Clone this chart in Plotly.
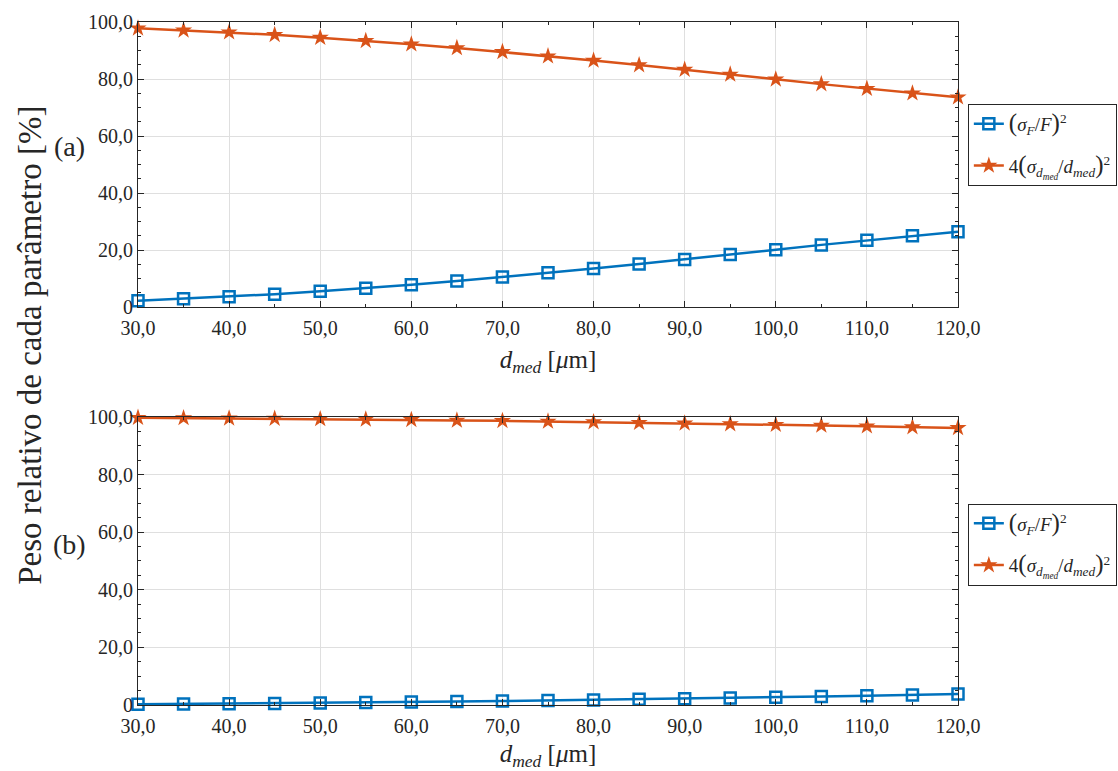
import plotly.graph_objects as go

# Mean diameter values [µm]
d_med = [30, 35, 40, 45, 50, 55, 60, 65, 70, 75, 80, 85, 90, 95, 100, 105, 110, 115, 120]

# (a) relative weight of each parameter [%]
peso_F_a = [2.2, 2.9, 3.6, 4.5, 5.5, 6.6, 7.8, 9.1, 10.5, 12.0, 13.5, 15.1, 16.7,
            18.4, 20.1, 21.8, 23.4, 25.0, 26.4]
peso_d_a = [97.8, 97.1, 96.4, 95.5, 94.5, 93.4, 92.2, 90.9, 89.5, 88.0, 86.5, 84.9,
            83.3, 81.6, 79.9, 78.2, 76.6, 75.0, 73.6]

# (b) relative weight of each parameter [%]
peso_F_b = [0.25, 0.35, 0.45, 0.55, 0.7, 0.85, 1.0, 1.2, 1.35, 1.55, 1.75, 2.0, 2.2,
            2.45, 2.7, 2.95, 3.2, 3.5, 3.8]
peso_d_b = [99.75, 99.65, 99.55, 99.45, 99.3, 99.15, 99.0, 98.8, 98.65, 98.45, 98.25,
            98.0, 97.8, 97.55, 97.3, 97.05, 96.8, 96.5, 96.2]

x_ticks = [30, 40, 50, 60, 70, 80, 90, 100, 110, 120]
x_ticktext = ["30,0", "40,0", "50,0", "60,0", "70,0", "80,0", "90,0", "100,0", "110,0", "120,0"]
y_ticks = [0, 20, 40, 60, 80, 100]
y_ticktext = ["0", "20,0", "40,0", "60,0", "80,0", "100,0"]

label_F = "<span style='font-size:25px'>(</span><i>σ<sub>F</sub></i>/<i>F</i><span style='font-size:25px'>)</span><sup>2</sup>"
label_d = "4<span style='font-size:25px'>(</span><i>σ<sub>d<sub>med</sub></sub></i>/<i>d<sub>med</sub></i><span style='font-size:25px'>)</span><sup>2</sup>"

BLUE = "#0072BD"
ORANGE = "#D95319"
FONT = "'Liberation Serif', 'DejaVu Serif', serif"
INK = "#262626"

fig = go.Figure()

panels = [
    (peso_F_a, peso_d_a, "x", "y", "legend"),
    (peso_F_b, peso_d_b, "x2", "y2", "legend2"),
]
for pF, pD, xa, ya, lg in panels:
    fig.add_trace(go.Scatter(
        x=d_med, y=pF, xaxis=xa, yaxis=ya, legend=lg, name=label_F, legendgroup="F",
        mode="lines+markers", cliponaxis=False,
        line=dict(color=BLUE, width=2.5),
        marker=dict(symbol="square-open", size=11, color=BLUE, line=dict(width=2.5, color=BLUE)),
    ))
    fig.add_trace(go.Scatter(
        x=d_med, y=pD, xaxis=xa, yaxis=ya, legend=lg, name=label_d, legendgroup="d",
        mode="lines+markers", cliponaxis=False,
        line=dict(color=ORANGE, width=2.5),
        marker=dict(symbol="star", size=13, color=ORANGE, line=dict(width=0)),
    ))

axis_common = dict(
    showline=True, mirror="allticks", linecolor=INK, linewidth=1,
    ticks="inside", ticklen=6, tickcolor=INK,
    showgrid=True, gridcolor="#dfdfdf", gridwidth=1,
    zeroline=False,
    tickfont=dict(family=FONT, size=20, color=INK),
    minor=dict(ticks="inside", ticklen=3, tickcolor=INK, showgrid=False),
)

x_title = dict(text="<i>d<sub>med</sub></i> [<i>μ</i>m]", font=dict(family=FONT, size=25, color=INK), standoff=12)

legend_common = dict(xanchor="left", yanchor="top", bordercolor=INK, borderwidth=1, bgcolor="white",
                     font=dict(family=FONT, size=19, color=INK), tracegroupgap=14, itemwidth=30)

fig.update_layout(
    width=1118, height=771,
    margin=dict(l=138, r=160, t=22, b=66, autoexpand=False),
    paper_bgcolor="white", plot_bgcolor="white",
    font=dict(family=FONT, color=INK),
    xaxis=dict(domain=[0, 1], anchor="y", range=[30, 120], tickvals=x_ticks, ticktext=x_ticktext,
               ticklabelstandoff=3, title=x_title, **axis_common),
    yaxis=dict(domain=[0.5827, 1.0], anchor="x", range=[0, 100], tickvals=y_ticks, ticktext=y_ticktext,
               **axis_common),
    xaxis2=dict(domain=[0, 1], anchor="y2", range=[30, 120], tickvals=x_ticks, ticktext=x_ticktext,
                ticklabelstandoff=3, title=x_title, **axis_common),
    yaxis2=dict(domain=[0, 0.4217], anchor="x2", range=[0, 100], tickvals=y_ticks, ticktext=y_ticktext,
                **axis_common),
    legend=dict(x=1.012, y=0.88, **legend_common),
    legend2=dict(x=1.012, y=0.295, **legend_common),
    annotations=[
        dict(text="Peso relativo de cada parâmetro [%]", xref="paper", yref="paper",
             x=-0.132, y=0.527, xanchor="center", yanchor="middle", textangle=-90, showarrow=False,
             font=dict(family=FONT, size=33, color=INK)),
        dict(text="(a)", xref="paper", yref="paper", x=-0.084, y=0.818, xanchor="center", yanchor="middle",
             showarrow=False, font=dict(family=FONT, size=28, color=INK)),
        dict(text="(b)", xref="paper", yref="paper", x=-0.084, y=0.235, xanchor="center", yanchor="middle",
             showarrow=False, font=dict(family=FONT, size=28, color=INK)),
    ],
)

fig.write_html("out.html")
